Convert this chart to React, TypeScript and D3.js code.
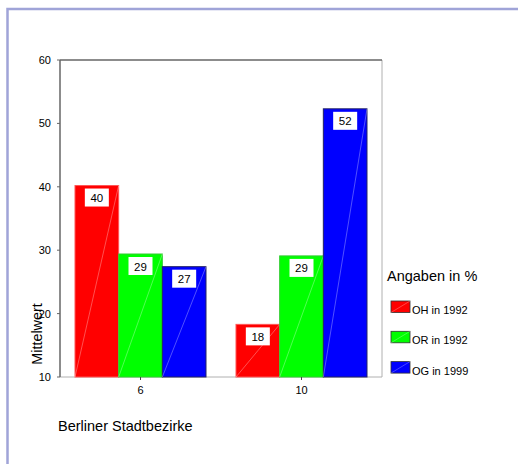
import React from "react";
import * as d3 from "d3";

const categories = ["6", "10"];
const seriesNames = ["OH in 1992", "OR in 1992", "OG in 1999"];
const seriesColors = ["#ff0000", "#00ff00", "#0000ff"];
const seriesStrokes = ["#ff5555", "#33cc33", "#222266"];
const valuesOH = [40.2, 18.3];
const valuesOR = [29.4, 29.1];
const valuesOG = [27.4, 52.3];
const labelsOH = [40, 18];
const labelsOR = [29, 29];
const labelsOG = [27, 52];
const yTicks = [10, 20, 30, 40, 50, 60];

const seriesValues = [valuesOH, valuesOR, valuesOG];
const seriesLabels = [labelsOH, labelsOR, labelsOG];

const FONT = "'Liberation Sans', Arial, Helvetica, sans-serif";

export default function App() {
  const left = 60, right = 382, top = 60, bottom = 377;
  const y = d3.scaleLinear().domain([10, 60]).range([bottom, top]);
  const x0 = d3
    .scaleBand<string>()
    .domain(categories)
    .range([left, right])
    .paddingInner(30 / 161)
    .paddingOuter(15 / 161);
  const x1 = d3
    .scaleBand<string>()
    .domain(seriesNames)
    .range([0, x0.bandwidth()]);

  return (
    <svg
      width={518}
      height={464}
      style={{ position: "absolute", left: 0, top: 0, fontFamily: FONT }}
    >
      <rect x={0} y={0} width={518} height={464} fill="#ffffff" />
      {/* frame */}
      <rect
        x={7.5}
        y={9}
        width={600}
        height={600}
        fill="none"
        stroke="#a0a4d8"
        strokeWidth={2.5}
      />
      {/* plot box */}
      <line x1={right} y1={top} x2={right} y2={bottom} stroke="#b0b0b0" strokeWidth={1} />
      <line x1={left} y1={bottom} x2={right} y2={bottom} stroke="#b0b0b0" strokeWidth={1} />
      <line x1={left} y1={top} x2={right} y2={top} stroke="#666666" strokeWidth={1.5} />

      {/* bars */}
      {seriesNames.map((s, si) =>
        categories.map((c, ci) => {
          const v = seriesValues[si][ci];
          const bx = (x0(c) as number) + (x1(s) as number);
          const bw = x1.bandwidth();
          const by = y(v);
          const bh = bottom - by;
          const cx = bx + bw / 2;
          return (
            <g key={s + c}>
              <rect
                x={bx}
                y={by}
                width={bw}
                height={bh}
                fill={seriesColors[si]}
                stroke={seriesStrokes[si]}
                strokeWidth={1}
              />
              <line
                x1={bx}
                y1={bottom}
                x2={bx + bw}
                y2={by}
                stroke="#ffffff"
                strokeOpacity={0.45}
                strokeWidth={0.7}
              />
              <rect x={cx - 12} y={by + 3} width={24} height={18} fill="#ffffff" />
              <text
                x={cx}
                y={by + 16.5}
                textAnchor="middle"
                fontSize={11.5}
                fill="#000"
              >
                {seriesLabels[si][ci]}
              </text>
            </g>
          );
        })
      )}

      {/* y axis */}
      <line x1={left} y1={top} x2={left} y2={bottom} stroke="#666666" strokeWidth={1.5} />
      {yTicks.map((t) => (
        <g key={t}>
          <line x1={left - 3} y1={y(t)} x2={left} y2={y(t)} stroke="#666666" strokeWidth={1} />
          <text x={51} y={y(t) + 4} textAnchor="end" fontSize={11} fill="#000">
            {t}
          </text>
        </g>
      ))}
      <text
        transform={`translate(42,334) rotate(-90)`}
        textAnchor="middle"
        fontSize={14.4}
        fill="#000"
      >
        Mittelwert
      </text>

      {/* x axis */}
      {categories.map((c) => {
        const cx = (x0(c) as number) + x0.bandwidth() / 2;
        return (
          <g key={c}>
            <line x1={cx} y1={bottom} x2={cx} y2={bottom + 3} stroke="#444" strokeWidth={1} />
            <text x={cx} y={394} textAnchor="middle" fontSize={11} fill="#000">
              {c}
            </text>
          </g>
        );
      })}
      <text x={58} y={431} fontSize={14.5} fill="#000">
        Berliner Stadtbezirke
      </text>

      {/* legend */}
      <text x={387} y={281} fontSize={14.5} fill="#000">
        Angaben in %
      </text>
      {seriesNames.map((s, si) => {
        const ly = 301 + si * 30.3;
        return (
          <g key={s}>
            <rect
              x={391}
              y={ly}
              width={19}
              height={11.5}
              fill={seriesColors[si]}
              stroke="#333333"
              strokeWidth={0.8}
            />
            <line
              x1={391}
              y1={ly + 11.5}
              x2={410}
              y2={ly}
              stroke="#ffffff"
              strokeOpacity={0.45}
              strokeWidth={0.6}
            />
            <text x={412} y={ly + 13} fontSize={11} fill="#000">
              {s}
            </text>
          </g>
        );
      })}
    </svg>
  );
}
